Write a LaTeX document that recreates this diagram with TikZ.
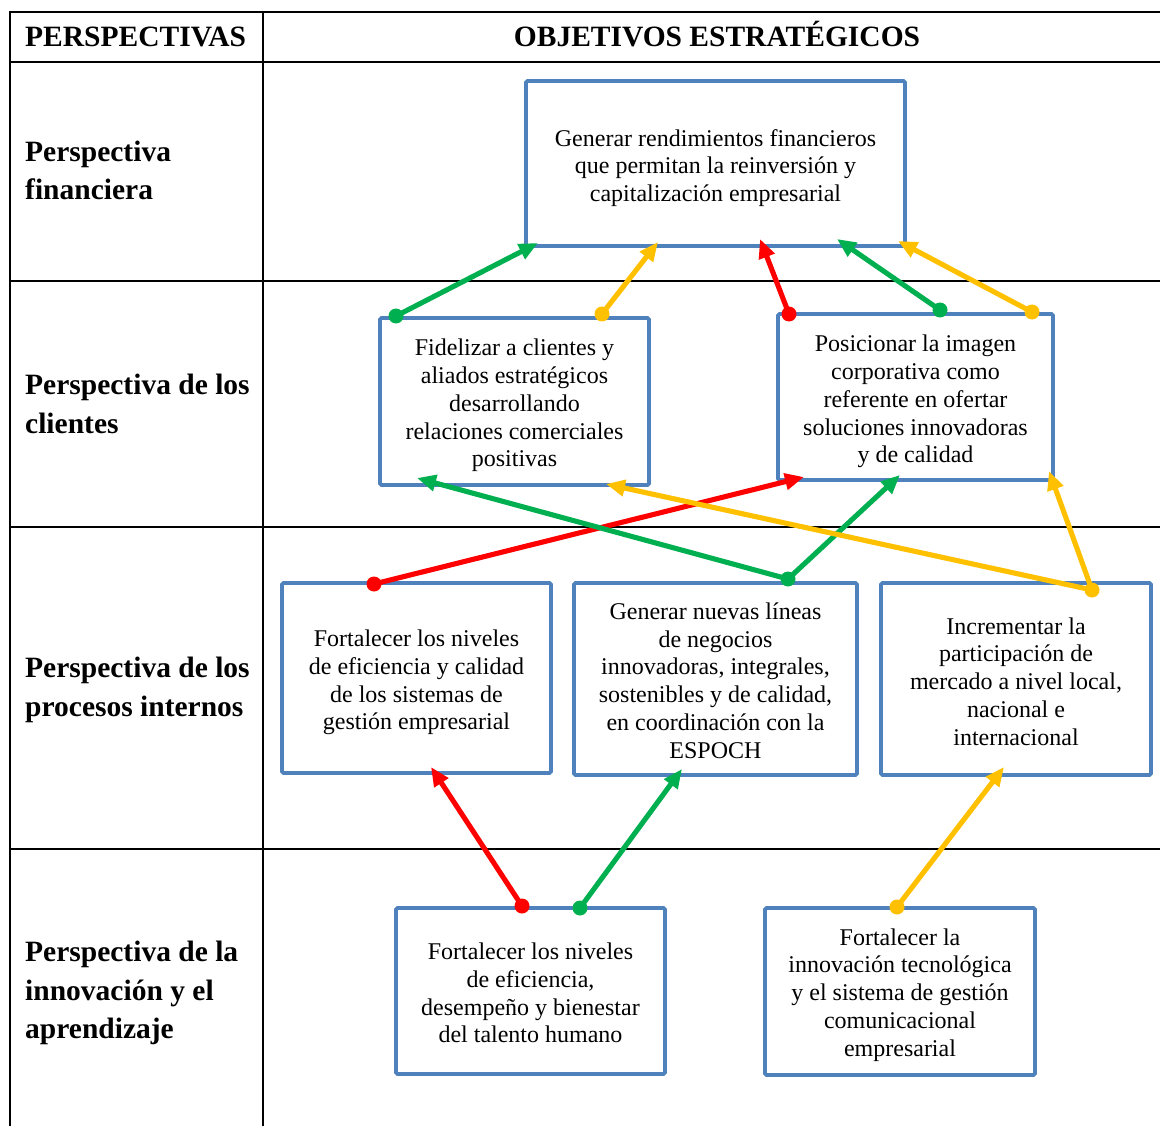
\documentclass[tikz,border=0pt]{standalone}
\usepackage{fontspec}
\setmainfont{Liberation Serif}
\usetikzlibrary{arrows.meta}
\definecolor{boxblue}{HTML}{4F81BD}
\definecolor{lred}{HTML}{FF0000}
\definecolor{lgreen}{HTML}{00B050}
\definecolor{lyellow}{HTML}{FFC000}
\tikzset{
  grid/.style={line width=1.8pt, black},
  objbox/.style={draw=boxblue, line width=3.8pt, rounded corners=1.5pt, fill=white, inner sep=0pt},
  objtext/.style={inner sep=0pt, align=center, font=\fontsize{24}{27.8}\selectfont},
  plabel/.style={anchor=west, align=left, inner sep=0pt, font=\fontsize{29.5}{38.6}\selectfont\bfseries},
  hlabel/.style={inner sep=0pt, font=\fontsize{29.5}{32}\selectfont\bfseries},
  dot/.style={circle, fill=#1, inner sep=0pt, minimum size=15pt},
  link/.style={draw=#1, line width=5.1pt, -{Triangle[length=19pt,width=16pt]}}
}
\begin{document}
\begin{tikzpicture}[x=1pt,y=-1pt]
\useasboundingbox (0,0) rectangle (1160,1126);

% table grid
\draw[grid] (10,1126) -- (10,12) -- (1160,12);
\draw[grid] (263,12) -- (263,1126);
\foreach \yy in {62,281,527,849} \draw[grid] (10,\yy) -- (1160,\yy);

% header and perspective labels
\node[hlabel, anchor=west] (hp) at (25,36.5) {PERSPECTIVAS};
\node[hlabel] (ho) at (717,34.5) {OBJETIVOS ESTRATÉGICOS};
\node[plabel] (p1) at (25,170.5) {Perspectiva\\financiera};
\node[plabel] (p2) at (25,404) {Perspectiva de los\\clientes};
\node[plabel] (p3) at (25,690) {Perspectiva de los\\procesos internos};
\node[plabel] (p4) at (25,993) {Perspectiva de la\\innovación y el\\aprendizaje};

% strategic objective boxes
\node[objbox, minimum width=379pt, minimum height=165pt] (fin) at (715.5,163.5) {};
\node[objbox, minimum width=269pt, minimum height=167pt] (cli1) at (514.5,401.5) {};
\node[objbox, minimum width=275pt, minimum height=166pt] (cli2) at (915.5,397) {};
\node[objbox, minimum width=269pt, minimum height=190pt] (pro1) at (416.5,678) {};
\node[objbox, minimum width=283pt, minimum height=192pt] (pro2) at (715.5,679) {};
\node[objbox, minimum width=270pt, minimum height=192pt] (pro3) at (1016,679) {};
\node[objbox, minimum width=269pt, minimum height=166pt] (apr1) at (530.5,991) {};
\node[objbox, minimum width=270pt, minimum height=167pt] (apr2) at (900,991.5) {};

% objective texts
\node[objtext] (fint) at (715.5,168) {Generar rendimientos financieros\\que permitan la reinversión y\\capitalización empresarial};
\node[objtext] (cli1t) at (514.5,405.5) {Fidelizar a clientes y\\aliados estratégicos\\desarrollando\\relaciones comerciales\\positivas};
\node[objtext] (cli2t) at (915.5,401.5) {Posicionar la imagen\\corporativa como\\referente en ofertar\\soluciones innovadoras\\y de calidad};
\node[objtext] (pro1t) at (416.5,682.5) {Fortalecer los niveles\\de eficiencia y calidad\\de los sistemas de\\gestión empresarial};
\node[objtext] (pro2t) at (715.5,680.5) {Generar nuevas líneas\\de negocios\\innovadoras, integrales,\\sostenibles y de calidad,\\en coordinación con la\\ESPOCH};
\node[objtext] (pro3t) at (1016,681.5) {Incrementar la\\participación de\\mercado a nivel local,\\nacional e\\internacional};
\node[objtext] (apr1t) at (530.5,993) {Fortalecer los niveles\\de eficiencia,\\desempeño y bienestar\\del talento humano};
\node[objtext] (apr2t) at (900,995) {Fortalecer la\\innovación tecnológica\\y el sistema de gestión\\comunicacional\\empresarial};

% arrow targets on the box borders
\coordinate (t1) at (538,243);
\coordinate (t2) at (658,242);
\coordinate (t3) at (760,239);
\coordinate (t4) at (837,239);
\coordinate (t5) at (898,241);
\coordinate (t6) at (804,477);
\coordinate (t7) at (417,478);
\coordinate (t8) at (900,475);
\coordinate (t9) at (606,484);
\coordinate (t10) at (1049,471);
\coordinate (t11) at (431,767);
\coordinate (t12) at (682,769);
\coordinate (t13) at (1004,767);

% links
\draw[link=lgreen] (396,316) coordinate (s1) -- (t1);
\draw[link=lyellow] (602,314) coordinate (s2) -- (t2);
\draw[link=lred] (789,314) coordinate (s3) -- (t3);
\draw[link=lgreen] (940,310) coordinate (s4) -- (t4);
\draw[link=lyellow] (1032,312) coordinate (s5) -- (t5);
\draw[link=lred] (374,584) coordinate (s6) -- (t6);
\draw[link=lgreen] (788,579) coordinate (s7) -- (t7);
\draw[link=lgreen] (s7) -- (t8);
\draw[link=lyellow] (1092,590) coordinate (s9) -- (t9);
\draw[link=lyellow] (s9) -- (t10);
\draw[link=lred] (522,906) coordinate (s11) -- (t11);
\draw[link=lgreen] (580,908) coordinate (s12) -- (t12);
\draw[link=lyellow] (897,907) coordinate (s13) -- (t13);

% source dots
\node[dot=lgreen] (d1) at (s1) {};
\node[dot=lyellow] (d2) at (s2) {};
\node[dot=lred] (d3) at (s3) {};
\node[dot=lgreen] (d4) at (s4) {};
\node[dot=lyellow] (d5) at (s5) {};
\node[dot=lred] (d6) at (s6) {};
\node[dot=lgreen] (d7) at (s7) {};
\node[dot=lyellow] (d9) at (s9) {};
\node[dot=lred] (d11) at (s11) {};
\node[dot=lgreen] (d12) at (s12) {};
\node[dot=lyellow] (d13) at (s13) {};
\end{tikzpicture}
\end{document}
